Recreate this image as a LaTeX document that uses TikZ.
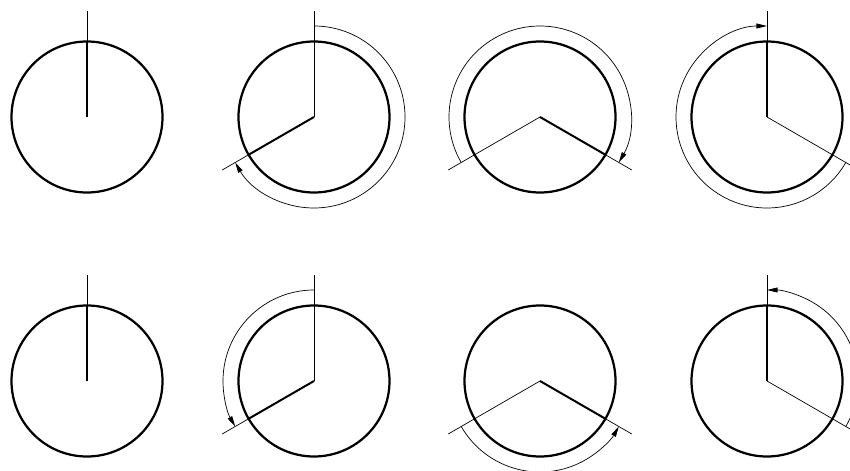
\documentclass[tikz,border=0pt]{standalone}
\usetikzlibrary{arrows.meta}

\begin{document}
\begin{tikzpicture}[x=0.03cm,y=0.03cm,
        rim/.style={line width=1.9pt},
        hand/.style={line width=1.7pt},
        ray/.style={line width=0.6pt},
        turn/.style={line width=0.6pt,-{Triangle[length=9pt,width=4.2pt]}}]
    \useasboundingbox (0,0) rectangle (850,470);
    \clip (0,0) rectangle (850,470);
    % dial centres
    \coordinate (t1) at (87,353);
    \coordinate (t2) at (314,353);
    \coordinate (t3) at (540,353);
    \coordinate (t4) at (767,353);
    \coordinate (b1) at (87,89);
    \coordinate (b2) at (314,89);
    \coordinate (b3) at (540,89);
    \coordinate (b4) at (767,89);
    \foreach \c in {t1,t2,t3,t4,b1,b2,b3,b4}
        \draw[rim] (\c) circle[radius=75.5];
    % top row
    \draw[ray] (t1) -- ++(90:106);
    \draw[hand] (t1) -- ++(90:75.5);
    \draw[ray] (t2) -- ++(90:106);
    \draw[ray] (t2) -- ++(210:106);
    \draw[hand] (t2) -- ++(210:75.5);
    \draw[turn] ([shift={(90:91)}]t2) arc[start angle=90,end angle=-150,radius=91];
    \draw[ray] (t3) -- ++(210:106);
    \draw[ray] (t3) -- ++(330:106);
    \draw[hand] (t3) -- ++(330:75.5);
    \draw[turn] ([shift={(210:91)}]t3) arc[start angle=210,end angle=-30,radius=91];
    \draw[ray] (t4) -- ++(90:106);
    \draw[hand] (t4) -- ++(90:75.5);
    \draw[ray] (t4) -- ++(330:106);
    \draw[turn] ([shift={(330:91)}]t4) arc[start angle=330,end angle=90,radius=91];
    % bottom row
    \draw[ray] (b1) -- ++(90:106);
    \draw[hand] (b1) -- ++(90:75.5);
    \draw[ray] (b2) -- ++(90:106);
    \draw[ray] (b2) -- ++(210:106);
    \draw[hand] (b2) -- ++(210:75.5);
    \draw[turn] ([shift={(90:91)}]b2) arc[start angle=90,end angle=210,radius=91];
    \draw[ray] (b3) -- ++(210:106);
    \draw[ray] (b3) -- ++(330:106);
    \draw[hand] (b3) -- ++(330:75.5);
    \draw[turn] ([shift={(210:91)}]b3) arc[start angle=210,end angle=330,radius=91];
    \draw[ray] (b4) -- ++(90:106);
    \draw[hand] (b4) -- ++(90:75.5);
    \draw[ray] (b4) -- ++(330:106);
    \draw[turn] ([shift={(-30:91)}]b4) arc[start angle=-30,end angle=90,radius=91];
\end{tikzpicture}
\end{document}
